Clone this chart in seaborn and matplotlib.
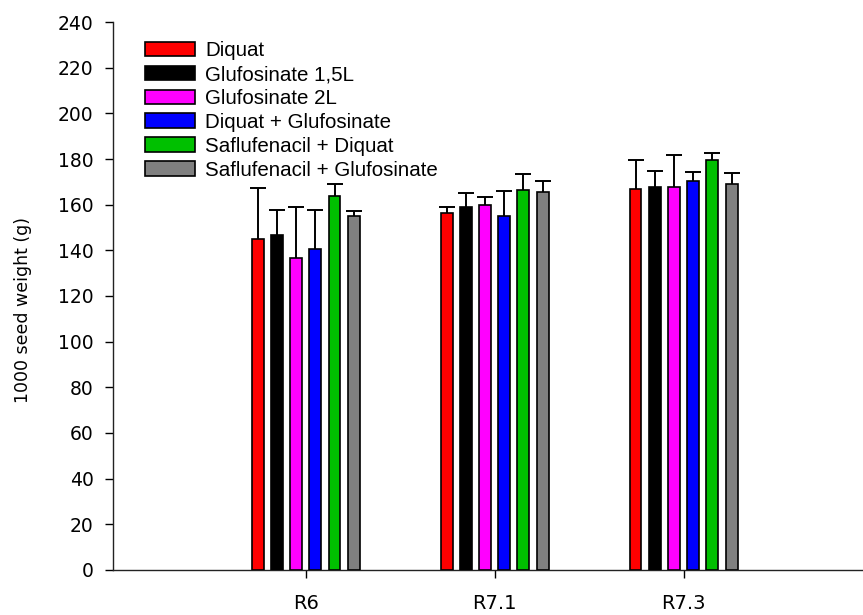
import numpy as np
import pandas as pd
import matplotlib
matplotlib.use('Agg')
import matplotlib.pyplot as plt
import seaborn as sns

stages = ['R6', 'R7.1', 'R7.3']
treatments = ['Diquat', 'Glufosinate 1,5L', 'Glufosinate 2L', 'Diquat + Glufosinate',
              'Saflufenacil + Diquat', 'Saflufenacil + Glufosinate']
colors = ['#ff0000', '#000000', '#ff00ff', '#0000ff', '#00c000', '#808080']

# means per treatment, one value per stage (R6, R7.1, R7.3)
diquat = [145.1, 156.4, 166.9]
gluf_15 = [146.6, 159.1, 167.8]
gluf_2 = [136.5, 159.9, 167.8]
diquat_gluf = [140.6, 154.9, 170.5]
saflu_diquat = [164.0, 166.3, 179.7]
saflu_gluf = [154.9, 165.4, 169.2]

# upper error (bar top -> cap)
err_diquat = [22.4, 2.7, 12.7]
err_gluf_15 = [11.1, 5.9, 6.8]
err_gluf_2 = [22.6, 3.5, 14.0]
err_diquat_gluf = [17.1, 11.2, 4.0]
err_saflu_diquat = [5.1, 7.0, 2.8]
err_saflu_gluf = [2.2, 5.0, 4.8]

means = [diquat, gluf_15, gluf_2, diquat_gluf, saflu_diquat, saflu_gluf]
errs = [err_diquat, err_gluf_15, err_gluf_2, err_diquat_gluf, err_saflu_diquat, err_saflu_gluf]

rows = []
for t, m, e in zip(treatments, means, errs):
    for s, v, ev in zip(stages, m, e):
        rows.append({'stage': s, 'treatment': t, 'weight': v, 'err': ev})
df = pd.DataFrame(rows)

sns.set_style('ticks')
plt.rcParams['font.family'] = ['DejaVu Sans']
plt.rcParams['text.color'] = 'black'
plt.rcParams['axes.labelcolor'] = 'black'
plt.rcParams['xtick.color'] = 'black'
plt.rcParams['ytick.color'] = 'black'

fig = plt.figure(figsize=(8.63, 6.15), dpi=100)
ax = fig.add_axes([0.131, 0.0732, 0.869, 0.891])

sns.barplot(data=df, x='stage', y='weight', hue='treatment', hue_order=treatments,
            order=stages, palette=colors, saturation=1, width=0.61, gap=0.38,
            errorbar=None, edgecolor='black', linewidth=1.2, ax=ax, zorder=3)

# upward-only error bars at bar centres
for cont, t in zip(ax.containers, treatments):
    sub = df[df['treatment'] == t].set_index('stage').loc[stages]
    xs = [p.get_x() + p.get_width() / 2 for p in cont.patches]
    tops = sub['weight'].values + sub['err'].values
    ax.vlines(xs, sub['weight'].values, tops, color='black', lw=1.4, zorder=2)
    ax.plot(xs, tops, ls='none', marker='_', ms=11, mew=1.4, color='black', zorder=2)

ax.set_xlim(-1.02, 2.95)
ax.set_ylim(0, 240)
ax.set_yticks(np.arange(0, 241, 20))
ax.set_xlabel('')
ax.set_ylabel('1000 seed weight (g)', fontsize=12.5)
ax.yaxis.set_label_coords(-0.108, 0.474)
sns.despine(ax=ax, top=True, right=True)
ax.tick_params(axis='y', direction='out', length=6, width=1, pad=8, labelsize=13.5)
ax.tick_params(axis='x', direction='out', length=6, width=1, pad=11, labelsize=14)
for sp in ['left', 'bottom']:
    ax.spines[sp].set_linewidth(1.0)
    ax.spines[sp].set_color('#222222')

leg = ax.legend(loc='upper left', bbox_to_anchor=(0.043, 0.965), frameon=False,
                handlelength=2.4, handleheight=0.72, handletextpad=0.5,
                labelspacing=0.24, borderpad=0, borderaxespad=0,
                prop={'family': 'Liberation Sans', 'size': 14.8})

fig.savefig('out.png', dpi=100)
